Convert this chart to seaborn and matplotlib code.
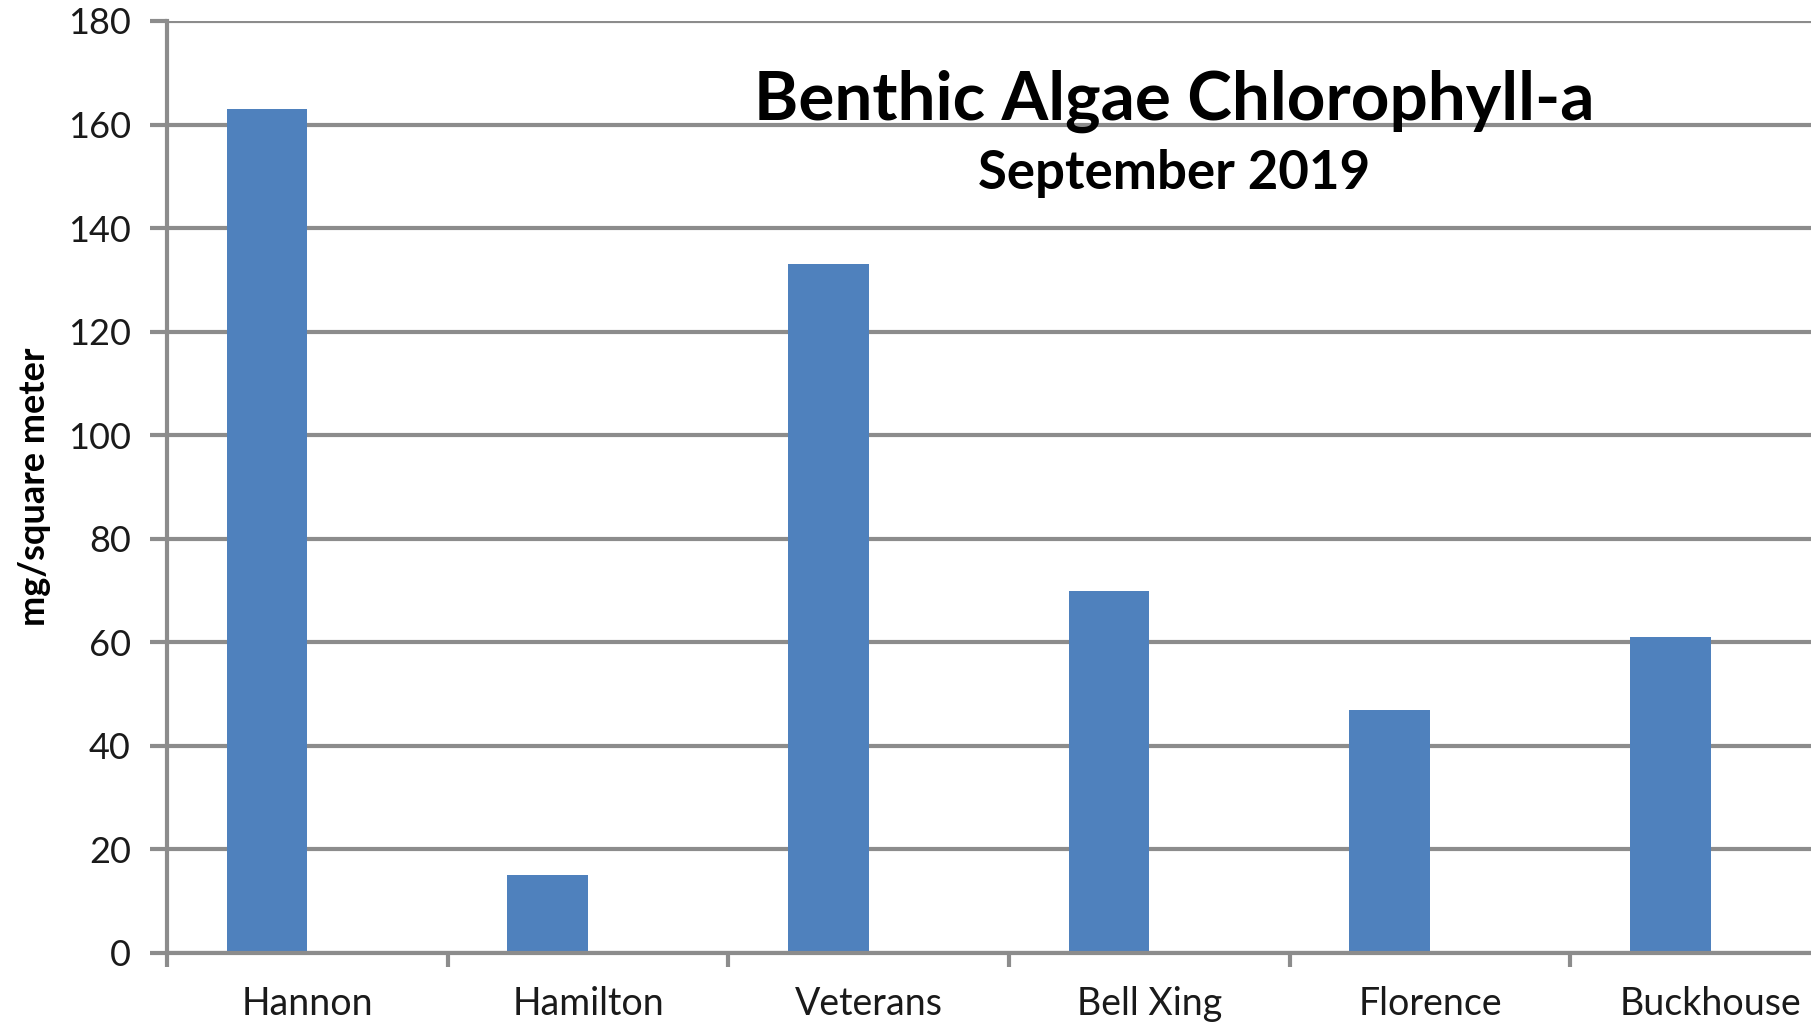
import matplotlib
matplotlib.use("Agg")
import matplotlib.pyplot as plt
import seaborn as sns
import pandas as pd
import numpy as np

sites = ["Hannon", "Hamilton", "Veterans", "Bell Xing", "Florence", "Buckhouse"]
chlorophyll = [163, 15, 133, 70, 47, 61]
blank_series = [0, 0, 0, 0, 0, 0]
yticks = [0, 20, 40, 60, 80, 100, 120, 140, 160, 180]

sns.set_theme(style="white")
plt.rcParams['font.family'] = ['Lato', 'DejaVu Sans']

df = pd.DataFrame({
    "site": sites * 2,
    "value": chlorophyll + blank_series,
    "series": ["Chl-a"] * len(sites) + ["blank"] * len(sites),
})

fig = plt.figure(figsize=(18.11, 10.23), dpi=100)
ax = fig.add_axes([167 / 1811, 70 / 1023, (1851 - 167) / 1811, (953 - 21) / 1023])

sns.barplot(data=df, x="site", y="value", hue="series", hue_order=["Chl-a", "blank"],
            palette=["#4F81BD", "#4F81BD"], width=0.576, gap=0, linewidth=0,
            saturation=1, legend=False, ax=ax, order=sites)

grid_c = "#8C8C8C"
ax.set_ylim(0, 180)
ax.set_xlim(-0.5, len(sites) - 0.5)
ax.set_yticks(yticks)
ax.yaxis.grid(True, color=grid_c, linewidth=3)
ax.set_axisbelow(True)
for s in ["top", "right"]:
    ax.spines[s].set_visible(False)
for s in ["left", "bottom"]:
    ax.spines[s].set_color(grid_c)
    ax.spines[s].set_linewidth(3)
ax.tick_params(axis="y", length=12, width=3, color=grid_c, labelsize=26, pad=14, left=True)
ax.tick_params(axis="x", which="major", length=0, labelsize=27, pad=24, bottom=True)
ax.set_xticks(np.arange(-0.5, len(sites), 1.0), minor=True)
ax.tick_params(axis="x", which="minor", length=10, width=3, color=grid_c, bottom=True)
for lab in ax.get_xticklabels() + ax.get_yticklabels():
    lab.set_color("#1a1a1a")
ax.set_xlabel("")
ax.set_ylabel("mg/square meter", fontsize=26, fontweight="bold", color="black", labelpad=12)

fig.text(1174 / 1811, 1 - 101 / 1023, "Benthic Algae Chlorophyll-a", ha="center", va="center",
         fontsize=48.5, fontweight="bold", color="black")
fig.text(1174 / 1811, 1 - 173 / 1023, "September 2019", ha="center", va="center",
         fontsize=38, fontweight="bold", color="black")

fig.savefig("out.png", dpi=100)
